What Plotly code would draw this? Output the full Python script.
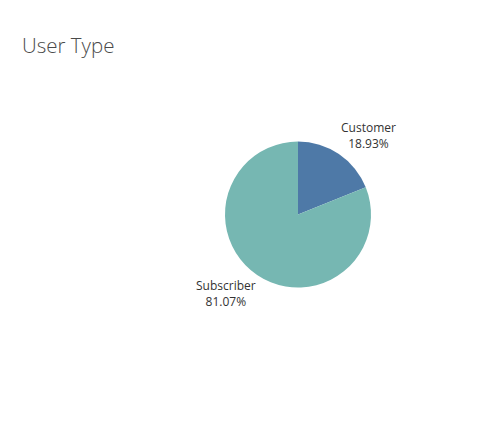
import plotly.graph_objects as go

categories = ["Customer", "Subscriber"]
shares = [18.93, 81.07]
colors = ["#4e79a7", "#76b7b2"]

W, H = 490, 424

fig = go.Figure(go.Pie(
    labels=categories,
    values=shares,
    sort=False,
    direction="clockwise",
    rotation=0,
    marker=dict(colors=colors, line=dict(width=0)),
    textinfo="none",
    hoverinfo="label+percent",
    domain=dict(x=[225 / W, 371 / W], y=[1 - 287.5 / H, 1 - 141.5 / H]),
    showlegend=False,
))

label_pos = {"Customer": (368, 136), "Subscriber": (226, 293)}
for cat, val in zip(categories, shares):
    px, py = label_pos[cat]
    fig.add_annotation(
        x=px / W, y=1 - py / H, xref="paper", yref="paper",
        xanchor="center", yanchor="middle",
        text=f"{cat}<br>{val:.2f}%", showarrow=False, align="center",
        font=dict(family="Open Sans", size=12, color="#333333"),
    )

fig.update_layout(
    width=W, height=H,
    margin=dict(l=0, r=0, t=0, b=0),
    paper_bgcolor="white", plot_bgcolor="white",
    title=dict(text="User Type", x=22 / W, xanchor="left", y=1 - 46 / H, yanchor="middle",
               font=dict(family="Open Sans", size=20.5, weight=300, color="#4a4a4a")),
)

fig.write_html("out.html")
